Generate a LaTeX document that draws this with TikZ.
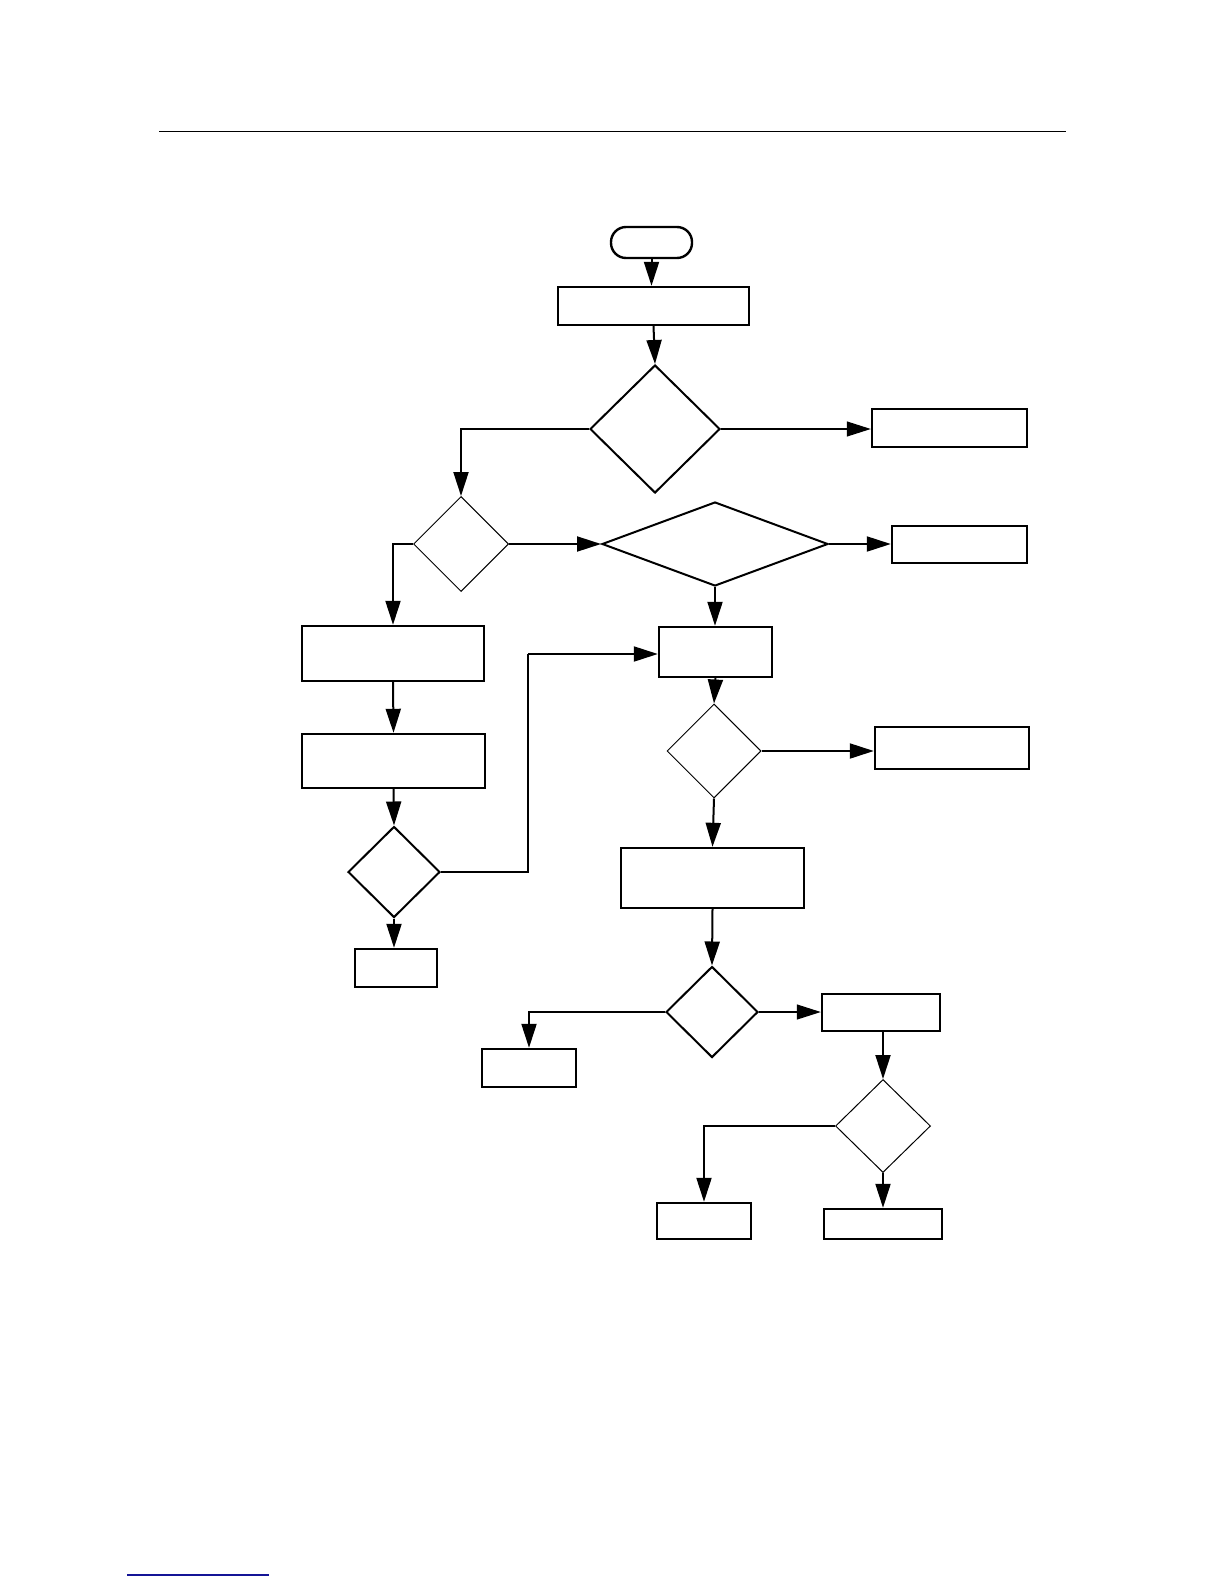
\documentclass[tikz,border=0pt]{standalone}
\usetikzlibrary{shapes.geometric,arrows.meta}
\definecolor{linkblue}{RGB}{20,20,150}
\tikzset{
  box/.style={draw, line width=1.2pt, inner sep=0pt, minimum width=#1},
  thickdia/.style={diamond, draw, line width=1pt, inner sep=0pt},
  thindia/.style={diamond, draw, line width=0.5pt, inner sep=0pt},
  arr/.style={-{Triangle[length=12pt,width=7.5pt]}, line width=1pt},
  thinarr/.style={-{Triangle[length=12pt,width=7.5pt]}, line width=0.6pt},
  seg/.style={line width=1pt}
}
\begin{document}
\begin{tikzpicture}[x=0.5pt,y=-0.5pt]
\useasboundingbox (0,0) rectangle (1224,1584);
% page rules
\draw[line width=0.5pt] (159,132) -- (1066,132);
\draw[linkblue, line width=0.9pt] (127,1575) -- (269,1575);

% nodes
\node[draw, line width=1.2pt, rounded corners=7.5pt, minimum width=40.5pt, minimum height=15.5pt, inner sep=0pt] (st) at (651.5,242.5) {};
\node[box=95.5pt, minimum height=19pt] (b1) at (653.5,306) {};
\node[thickdia, minimum width=65pt, minimum height=64pt] (d1) at (655,429) {};
\node[box=77.5pt, minimum height=19pt] (r1) at (949.5,428) {};
\node[thindia, minimum width=47.5pt, minimum height=47.5pt] (d2) at (461,544) {};
\node[thickdia, minimum width=113pt, minimum height=42pt] (d3) at (715,544) {};
\node[box=67.5pt, minimum height=18.5pt] (r2) at (959.5,544.5) {};
\node[box=91pt, minimum height=27.5pt] (l1) at (393,653.5) {};
\node[box=91.5pt, minimum height=27pt] (l2) at (393.5,761) {};
\node[box=56.5pt, minimum height=25pt] (m1) at (715.5,652) {};
\node[thindia, minimum width=47pt, minimum height=47pt] (d4) at (714,751) {};
\node[box=77pt, minimum height=21pt] (r3) at (952,748) {};
\node[thickdia, minimum width=46pt, minimum height=45.5pt] (d5) at (394,872) {};
\node[box=41pt, minimum height=19pt] (l3) at (396,968) {};
\node[box=91.5pt, minimum height=30pt] (m2) at (712.5,878) {};
\node[thickdia, minimum width=46pt, minimum height=45.5pt] (d6) at (712,1012) {};
\node[box=47pt, minimum height=19pt] (l4) at (529,1068) {};
\node[box=59pt, minimum height=18.5pt] (r4) at (881,1012.5) {};
\node[thindia, minimum width=47.5pt, minimum height=46.5pt] (d7) at (883,1126) {};
\node[box=47pt, minimum height=18pt] (bb1) at (704,1221) {};
\node[box=59pt, minimum height=15pt] (bb2) at (883,1224) {};
\coordinate (lp) at (528,654);

% connectors
\draw[arr] (st.south) -- (st.south |- b1.north);
\draw[arr] (b1.south) -- (d1.north);
\draw[thinarr] (d1.east) -- (d1.east -| r1.west);
\draw[arr] (d1.west) -| (d2.north);
\draw[arr] (d2.east) -- (d3.west);
\draw[arr] (d3.east) -- (d3.east -| r2.west);
\draw[arr] (d2.west) -| (l1.north);
\draw[arr] (l1.south) -- (l2.north);
\draw[arr] (l2.south) -- (d5.north);
\draw[arr] (d5.south) -- (d5.south |- l3.north);
\draw[seg] (d5.east) -| (lp);
\draw[arr] (lp) -- (lp -| m1.west);
\draw[arr] (d3.south) -- (d3.south |- m1.north);
\draw[arr] (m1.south) -- (d4.north);
\draw[arr] (d4.east) -- (d4.east -| r3.west);
\draw[arr] (d4.south) -- (m2.north);
\draw[arr] (m2.south) -- (d6.north);
\draw[arr] (d6.west) -| (l4.north);
\draw[thinarr] (d6.east) -- (d6.east -| r4.west);
\draw[arr] (r4.south -| d7.north) -- (d7.north);
\draw[arr] (d7.west) -| (bb1.north);
\draw[arr] (d7.south) -- (bb2.north);
\end{tikzpicture}
\end{document}
